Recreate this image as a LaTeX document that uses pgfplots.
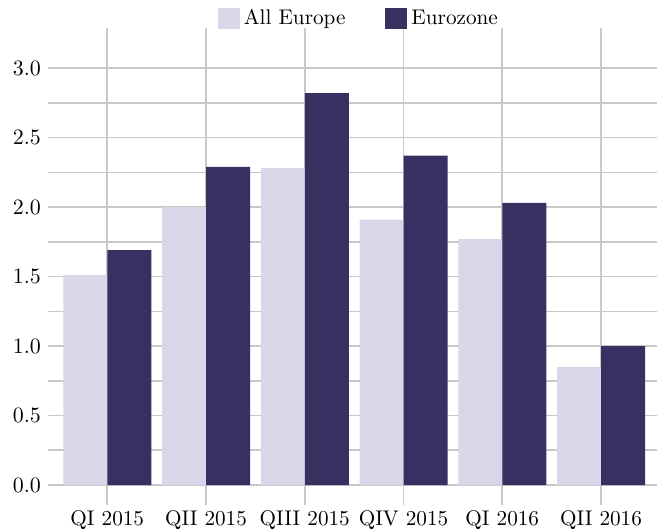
\documentclass[border=0pt]{standalone}
\usepackage{pgfplots}
\pgfplotsset{compat=1.18}
\definecolor{lightbar}{RGB}{217,214,234}
\definecolor{darkbar}{RGB}{56,48,96}
\definecolor{gridc}{RGB}{200,200,200}
\begin{document}
\begin{tikzpicture}
\useasboundingbox (-24pt,-23pt) rectangle (304.5pt,242.5pt);
\begin{axis}[
  at={(0,0)}, anchor=south west,
  scale only axis,
  width=304.5pt, height=218.5pt,
  xmin=-0.6, xmax=5.567,
  ymin=0, ymax=3.145,
  ybar, bar width=22pt,
  xtick={0,1,2,3,4,5},
  xticklabels={QI 2015,QII 2015,QIII 2015,QIV 2015,QI 2016,QII 2016},
  ytick={0,0.5,1,1.5,2,2.5,3},
  minor y tick num=1,
  ticklabel style={font=\fontsize{10.6}{12}\selectfont},
  xticklabel style={yshift=1pt},
  yticklabel style={/pgf/number format/.cd,fixed,fixed zerofill,precision=1},
  xmajorgrids, ymajorgrids, yminorgrids,
  grid style={draw=gridc, line width=0.8pt},
  minor grid style={draw=gridc, line width=0.8pt},
  axis line style={draw=none},
  xtick align=outside, ytick align=inside,
  major tick length=10pt,
  xtick style={draw=gridc, line width=0.8pt},
  ytick style={draw=none},
  minor tick style={draw=none},
  legend columns=-1,
  legend style={draw=none, fill=none, at={(0.512,1)}, anchor=south, yshift=6pt,
    /tikz/every even column/.append style={column sep=18pt},
    font=\fontsize{10.6}{12}\selectfont},
  legend image code/.code={\fill[#1] (0pt,-5.25pt) rectangle (11pt,5.25pt);},
]
\addplot[fill=lightbar, draw=none, bar shift=-11pt] coordinates {(0,1.51) (1,2.00) (2,2.28) (3,1.91) (4,1.77) (5,0.85)};
\addplot[fill=darkbar, draw=none, bar shift=11pt] coordinates {(0,1.69) (1,2.29) (2,2.82) (3,2.37) (4,2.03) (5,1.00)};
\legend{All Europe, Eurozone}
\end{axis}
\end{tikzpicture}
\end{document}
